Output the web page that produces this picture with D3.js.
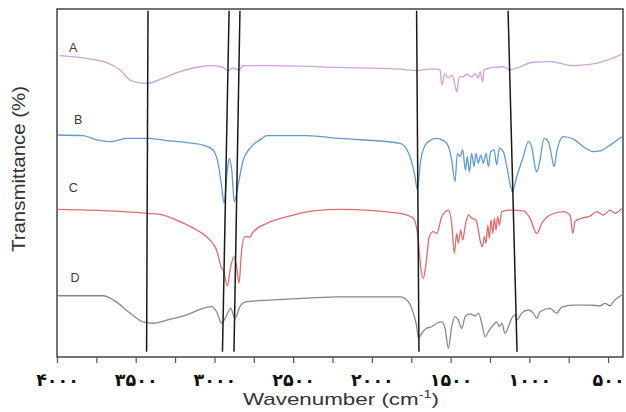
<!DOCTYPE html>
<html>
<head>
<meta charset="utf-8">
<script src="https://cdn.jsdelivr.net/npm/d3@7"></script>
<style>
  html, body { margin: 0; padding: 0; background: #fff; }
  svg { display: block; }
</style>
</head>
<body>
<svg id="chart" width="626" height="412"></svg>
<script>
// ---------- DATA ----------
const majorTicks = [4000, 3500, 3000, 2500, 2000, 1500, 1000, 500];
const tickLabels = ["۴۰۰۰", "۳۵۰۰", "۳۰۰۰", "۲۵۰۰", "۲۰۰۰", "۱۵۰۰", "۱۰۰۰", "۵۰۰"];
const minorStep = 250;

const seriesNames = ["A", "B", "C", "D"];
// label anchor [wavenumber, transmittance]
const labelAnchors = [[3898, 88.8], [3865, 68.1], [3896, 48.5], [3886, 22.6]];

// [wavenumber (cm-1), transmittance (%)]
const spectrumA = [
  [3981,86.6],[3748,85.3],[3684,84.6],[3600,82.5],[3536,79.6],[3473,78.8],[3422,78.6],
  [3346,79.8],[3219,82.0],[3092,83.4],[3009,83.7],[2946,83.2],[2914,82.3],[2882,83.1],
  [2844,82.5],[2819,83.7],[2628,83.7],[2202,83.2],[1821,82.7],[1715,82.3],[1612,82.8],
  [1567,82.5],[1556,78.2],[1535,81.5],[1516,80.2],[1493,81.0],[1478,79.4],[1461,76.2],
  [1446,80.5],[1421,80.5],[1398,81.3],[1366,80.5],[1345,81.5],[1326,80.1],[1313,82.0],
  [1296,79.1],[1288,82.5],[1231,83.2],[1167,83.4],[1123,82.5],[1059,83.4],[976,84.7],
  [868,84.9],[722,83.7],[595,84.2],[506,85.3],[413,87.0]
];
const spectrumB = [
  [3994,63.8],[3835,63.6],[3748,62.4],[3663,61.9],[3557,62.8],[3430,62.8],[3303,62.2],
  [3176,61.6],[3073,60.9],[3009,59.5],[2977,55.7],[2954,48.9],[2939,44.2],[2918,53.7],
  [2906,57.1],[2890,53.7],[2874,44.6],[2848,49.9],[2817,56.6],[2774,60.0],[2711,62.4],
  [2668,63.6],[2414,63.6],[2202,62.8],[1821,61.4],[1758,57.6],[1726,51.8],[1711,48.0],
  [1690,56.6],[1652,61.4],[1588,62.8],[1525,61.4],[1493,56.6],[1472,50.4],[1457,58.5],
  [1440,57.6],[1423,59.5],[1406,53.7],[1394,57.6],[1381,53.2],[1366,58.5],[1351,54.7],
  [1339,58.5],[1324,55.7],[1309,58.0],[1292,55.7],[1275,58.5],[1260,54.7],[1245,59.0],
  [1224,59.5],[1207,55.2],[1190,60.0],[1165,59.0],[1143,54.7],[1123,49.9],[1108,47.5],
  [1080,51.8],[1038,57.6],[1006,61.9],[985,60.4],[964,54.7],[953,53.2],[932,56.6],
  [907,62.8],[879,61.9],[858,57.6],[843,54.7],[826,59.0],[784,63.3],[720,62.6],
  [657,60.4],[593,59.0],[551,59.2],[487,60.9],[413,63.3]
];
const spectrumC = [
  [3994,42.4],[3684,42.0],[3430,41.3],[3325,40.8],[3219,38.9],[3113,36.5],[3028,33.6],
  [2986,30.7],[2954,25.5],[2944,25.0],[2918,20.4],[2897,25.9],[2876,28.8],[2859,25.9],
  [2844,21.2],[2827,30.7],[2806,34.6],[2779,34.4],[2753,36.0],[2668,38.4],[2499,40.8],
  [2372,42.0],[2202,42.4],[1821,41.3],[1737,39.9],[1705,33.6],[1690,25.9],[1673,22.6],
  [1656,26.9],[1635,34.6],[1610,36.0],[1588,35.5],[1556,40.3],[1514,42.2],[1493,38.4],
  [1476,29.8],[1461,35.5],[1451,32.7],[1436,36.5],[1423,33.6],[1408,37.4],[1387,40.8],
  [1366,39.9],[1339,39.4],[1324,36.5],[1313,33.6],[1298,31.7],[1286,34.6],[1275,32.7],
  [1264,37.9],[1254,34.1],[1243,39.4],[1232,35.5],[1222,39.9],[1212,36.5],[1201,40.3],
  [1190,37.9],[1175,41.8],[1123,42.2],[1038,42.0],[996,39.9],[953,35.5],[921,38.4],
  [868,40.8],[784,41.8],[741,40.8],[724,35.5],[710,38.9],[667,39.9],[614,40.5],
  [572,41.8],[530,40.8],[487,42.2],[456,41.3],[413,42.7]
];
const spectrumD = [
  [3994,17.6],[3706,17.6],[3642,16.4],[3536,12.6],[3452,10.1],[3388,9.7],[3303,10.6],
  [3176,12.1],[3071,14.0],[3017,14.5],[2986,13.0],[2954,9.7],[2927,11.6],[2897,14.0],
  [2869,11.1],[2838,14.5],[2795,15.9],[2626,16.4],[2414,16.9],[2202,17.3],[1821,17.3],
  [1769,15.9],[1737,12.6],[1715,8.7],[1705,5.4],[1683,6.8],[1656,8.2],[1620,8.7],
  [1588,9.7],[1556,10.1],[1535,8.2],[1514,2.5],[1493,8.7],[1472,11.6],[1451,10.6],
  [1429,8.2],[1408,11.6],[1377,12.4],[1345,11.8],[1324,12.6],[1302,9.7],[1281,5.8],
  [1260,7.3],[1229,9.2],[1207,10.1],[1190,8.7],[1175,9.7],[1154,6.8],[1133,8.7],
  [1112,11.1],[1091,12.1],[1080,10.6],[1048,12.6],[1006,13.5],[975,12.6],[953,11.1],
  [932,13.0],[868,14.0],[826,12.6],[794,14.3],[720,14.9],[614,14.9],[551,14.7],
  [519,15.4],[487,14.7],[466,15.9],[413,17.8]
];
const spectra = [spectrumA, spectrumB, spectrumC, spectrumD];

// reference lines: [wavenumber at top, wavenumber at bottom]
const markerLines = [[3422, 3431], [2907, 2949], [2838, 2876], [1716, 1701], [1135, 1078]];
const markerSpan = [99.5, 1.5];

// ---------- STYLE / LAYOUT ----------
const colors = ["#cda2da", "#5f9bd2", "#e06c6c", "#888888"];
const svg = d3.select("#chart");
const plot = { left: 57, right: 623, top: 9, bottom: 357 };

const x = d3.scaleLinear().domain([4000, 405]).range([plot.left, plot.right]);
const y = d3.scaleLinear().domain([0, 100]).range([plot.bottom, plot.top]);

// spectra
const line = d3.line()
  .x(d => x(d[0]))
  .y(d => y(d[1]))
  .curve(d3.curveMonotoneX);

svg.append("g").selectAll("path")
  .data(spectra)
  .join("path")
  .attr("d", line)
  .attr("fill", "none")
  .attr("stroke", (d, i) => colors[i])
  .attr("stroke-width", 1.3)
  .attr("stroke-linejoin", "round");

// vertical reference lines
svg.append("g").selectAll("line")
  .data(markerLines)
  .join("line")
  .attr("x1", d => x(d[0]))
  .attr("y1", y(markerSpan[0]))
  .attr("x2", d => x(d[1]))
  .attr("y2", y(markerSpan[1]))
  .attr("stroke", "#1a1a1a")
  .attr("stroke-width", 1.5);

// series labels
svg.append("g").selectAll("text")
  .data(seriesNames)
  .join("text")
  .attr("x", (d, i) => x(labelAnchors[i][0]))
  .attr("y", (d, i) => y(labelAnchors[i][1]))
  .attr("text-anchor", "middle")
  .attr("dominant-baseline", "central")
  .attr("font-family", "'Liberation Sans', Arial, sans-serif")
  .attr("font-size", 12.5)
  .attr("fill", "#3a3a3a")
  .text(d => d);

// frame
svg.append("rect")
  .attr("x", plot.left)
  .attr("y", plot.top)
  .attr("width", plot.right - plot.left)
  .attr("height", plot.bottom - plot.top)
  .attr("fill", "none")
  .attr("stroke", "#444")
  .attr("stroke-width", 1.5);

// x axis
const tickVals = d3.range(majorTicks[0], majorTicks[majorTicks.length - 1] - 1, -minorStep);
const xAxis = d3.axisBottom(x)
  .tickValues(tickVals)
  .tickSize(6)
  .tickSizeOuter(0)
  .tickFormat(v => {
    const i = majorTicks.indexOf(v);
    return i >= 0 ? tickLabels[i] : "";
  });

const gx = svg.append("g")
  .attr("transform", `translate(0,${plot.bottom})`)
  .call(xAxis);
gx.select(".domain").remove();
gx.selectAll(".tick line").attr("stroke", "#555").attr("stroke-width", 1.2);
gx.selectAll(".tick text")
  .attr("y", 17)
  .attr("font-family", "'DejaVu Sans', sans-serif")
  .attr("font-weight", "bold")
  .attr("font-size", 17.5)
  .attr("fill", "#111");

// axis titles
const xt = svg.append("text")
  .attr("x", 341)
  .attr("y", 405)
  .attr("text-anchor", "middle")
  .attr("font-family", "'Liberation Sans', Arial, sans-serif")
  .attr("font-size", 17)
  .attr("fill", "#333")
  .attr("textLength", 196)
  .attr("lengthAdjust", "spacingAndGlyphs");
xt.append("tspan").text("Wavenumber (cm");
xt.append("tspan").attr("font-size", 11).attr("dy", -7).text("-1");
xt.append("tspan").attr("dy", 7).text(")");

svg.append("text")
  .attr("transform", "translate(25,169) rotate(-90)")
  .attr("text-anchor", "middle")
  .attr("font-family", "'Liberation Sans', Arial, sans-serif")
  .attr("font-size", 17.5)
  .attr("fill", "#333")
  .attr("textLength", 166)
  .attr("lengthAdjust", "spacingAndGlyphs")
  .text("Transmittance (%)");
</script>
</body>
</html>
